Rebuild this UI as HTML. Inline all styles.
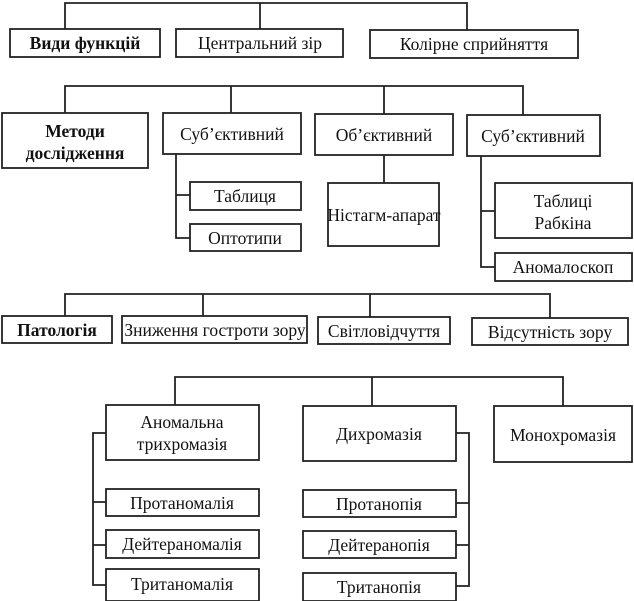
<!DOCTYPE html>
<html><head><meta charset="utf-8"><style>
html,body{margin:0;padding:0;background:#fff;}
svg{display:block;}
text{font-family:"Liberation Serif",serif;font-size:17.5px;fill:#111;text-anchor:middle;}
.b{font-weight:bold;}
rect{fill:#fff;stroke:#222;stroke-width:1.8;}
path{fill:none;stroke:#222;stroke-width:1.8;}
</style></head><body>
<svg width="634" height="601" viewBox="0 0 634 601" xmlns="http://www.w3.org/2000/svg">
<path d="M65 29V3H467V30M260 3V29"/>
<rect x="10" y="29" width="150" height="28"/><text x="85" y="49" class="b">Види функцій</text>
<rect x="176" y="29" width="167" height="28"/><text x="260" y="49">Центральний зір</text>
<rect x="370" y="30" width="208" height="28"/><text x="474" y="50">Колірне сприйняття</text>
<path d="M65 113V86H523V115M231 86V113M384 86V114"/>
<rect x="2" y="113" width="146" height="55"/><text x="75" y="137" class="b">Методи</text><text x="75" y="159" class="b">дослідження</text>
<rect x="163" y="113" width="138" height="41"/><text x="232" y="140">Суб’єктивний</text>
<rect x="315" y="114" width="138" height="41"/><text x="384" y="141">Об’єктивний</text>
<rect x="467" y="115" width="133" height="41"/><text x="533" y="142">Суб’єктивний</text>
<path d="M176 154V238H190M176 195H190"/>
<rect x="190" y="182" width="111" height="28"/><text x="245" y="202">Таблиця</text>
<rect x="190" y="224" width="111" height="27"/><text x="245" y="244">Оптотипи</text>
<path d="M384 155V183"/>
<rect x="328" y="183" width="111" height="63"/><text x="384" y="221">Ністагм-апарат</text>
<path d="M481 156V267H495M481 211H495"/>
<rect x="495" y="183" width="137" height="55"/><text x="563" y="207">Таблиці</text><text x="563" y="229">Рабкіна</text>
<rect x="495" y="253" width="137" height="28"/><text x="563" y="273">Аномалоскоп</text>
<path d="M65 316V294H550V318M203 294V316M370 294V317"/>
<rect x="2" y="316" width="110" height="27"/><text x="57" y="336" class="b">Патологія</text>
<rect x="122" y="316" width="185" height="27"/><text x="215" y="336">Зниження гостроти зору</text>
<rect x="318" y="317" width="132" height="27"/><text x="384" y="337">Світловідчуття</text>
<rect x="472" y="318" width="156" height="27"/><text x="550" y="338">Відсутність зору</text>
<path d="M175 405V377H563V406M372 377V406"/>
<rect x="106" y="405" width="153" height="55"/><text x="182" y="428">Аномальна</text><text x="182" y="450">трихромазія</text>
<rect x="303" y="406" width="153" height="55"/><text x="379" y="440">Дихромазія</text>
<rect x="494" y="406" width="138" height="56"/><text x="563" y="441">Монохромазія</text>
<path d="M106 433H93V585H106M93 502H106M93 545H106"/>
<rect x="106" y="489" width="153" height="27"/><text x="182" y="509">Протаномалія</text>
<rect x="106" y="530" width="153" height="28"/><text x="182" y="550">Дейтераномалія</text>
<rect x="106" y="569" width="153" height="32"/><text x="182" y="590">Тританомалія</text>
<path d="M456 433H469V586H456M469 503H456M469 545H456"/>
<rect x="303" y="490" width="153" height="27"/><text x="379" y="510">Протанопія</text>
<rect x="303" y="531" width="153" height="27"/><text x="379" y="551">Дейтеранопія</text>
<rect x="303" y="573" width="153" height="28"/><text x="379" y="593">Тританопія</text>
</svg>
</body></html>
